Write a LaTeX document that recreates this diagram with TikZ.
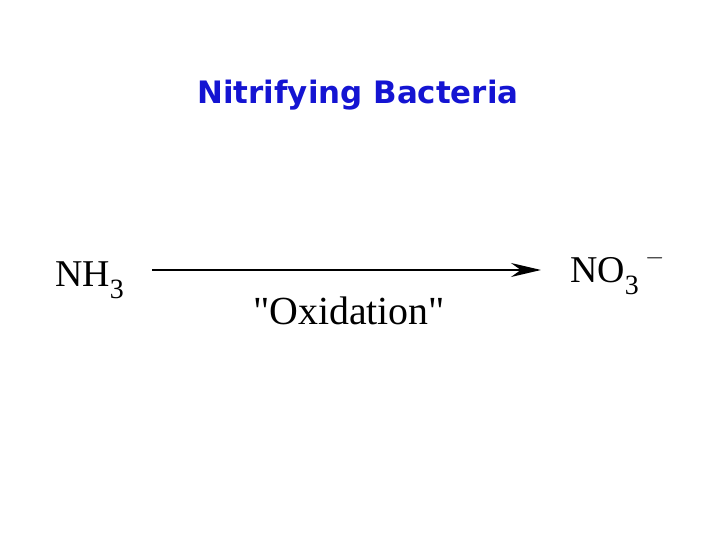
\documentclass[tikz,border=0pt]{standalone}
\usepackage{fontspec}
\setmainfont{Liberation Serif}
\newfontfamily\titlefont{DejaVu Sans}
\usetikzlibrary{arrows.meta}
\definecolor{tblue}{RGB}{20,20,210}
\begin{document}
\begin{tikzpicture}[x=1bp,y=1bp,
  chem/.style={font=\fontsize{38}{40}\selectfont, inner sep=0pt, anchor=base west}]
\useasboundingbox (0,0) rectangle (720,540);
\node[font=\titlefont\bfseries\fontsize{31}{34}\selectfont, text=tblue] (title) at (358,445) {Nitrifying Bacteria};
\node[chem] (nh3) at (55,253) {NH\raisebox{-0.3em}{\fontsize{28}{28}\selectfont 3}};
\node[chem] (no3) at (570,257) {NO\raisebox{-0.3em}{\fontsize{28}{28}\selectfont 3}\raisebox{0.5em}{\,\fontsize{26}{26}\selectfont $-$}};
\coordinate (a1) at (152,270);
\coordinate (a2) at (541,270);
\draw[line width=1.5bp, -{Stealth[length=30bp,width=14bp]}] (a1) -- (a2);
\node[font=\fontsize{40}{42}\selectfont] (ox) at (349,229) {\textquotedbl Oxidation\textquotedbl};
\end{tikzpicture}
\end{document}
